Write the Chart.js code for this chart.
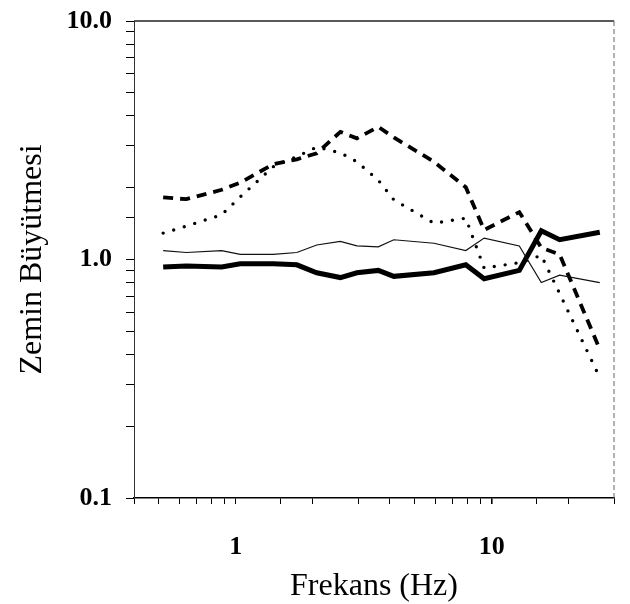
<!DOCTYPE html>
<html>
<head>
<meta charset="utf-8">
<script src="https://cdn.jsdelivr.net/npm/chart.js@4"></script>
<style>
  html, body { margin: 0; padding: 0; background: #fff; }
  #wrap { width: 630px; height: 604px; }
</style>
</head>
<body>
<div id="wrap"><canvas id="amp-chart" width="630" height="604"></canvas></div>
<script>
// frekanslar (Hz) ve zemin buyutmesi degerleri
var freq = [0.52, 0.64, 0.88, 1.04, 1.4, 1.73, 2.07, 2.56, 2.97, 3.6, 4.14, 5.94, 7.91, 9.33, 12.8, 15.6, 18.4, 26.4];
var thickLine = [0.93, 0.94, 0.93, 0.96, 0.96, 0.95, 0.88, 0.84, 0.88, 0.90, 0.85, 0.88, 0.95, 0.83, 0.90, 1.32, 1.21, 1.30];
var thinLine = [1.09, 1.07, 1.09, 1.05, 1.05, 1.07, 1.15, 1.19, 1.14, 1.13, 1.21, 1.17, 1.09, 1.23, 1.14, 0.80, 0.86, 0.80];
var dashLine = [1.82, 1.79, 1.96, 2.10, 2.51, 2.63, 2.79, 3.43, 3.22, 3.60, 3.25, 2.57, 2.01, 1.33, 1.58, 1.12, 1.05, 0.42];
var dotLine = [1.29, 1.38, 1.54, 1.83, 2.45, 2.70, 2.96, 2.80, 2.57, 2.15, 1.78, 1.42, 1.49, 0.92, 0.97, 1.04, 0.72, 0.32];

var xLabels = { 1: "1", 10: "10" };
var yLabels = { 0.1: "0.1", 1: "1.0", 10: "10.0" };

function pts(values) {
    return values.map(function (v, i) { return { x: freq[i], y: v }; });
}

var serif = "'Liberation Serif', 'DejaVu Serif', serif";

// ust ve sag cerceve
var framePlugin = {
    id: "frame",
    afterDraw: function (chart) {
        var a = chart.chartArea;
        var c = chart.ctx;
        c.save();
        c.strokeStyle = "#222";
        c.lineWidth = 1.5;
        c.beginPath();
        c.moveTo(a.left, a.top);
        c.lineTo(a.right, a.top);
        c.stroke();
        c.strokeStyle = "#666";
        c.lineWidth = 1;
        c.setLineDash([5, 3]);
        c.beginPath();
        c.moveTo(a.right, a.top);
        c.lineTo(a.right, a.bottom);
        c.stroke();
        c.restore();
    }
};

var ctx = document.getElementById("amp-chart");
var chartGraph = new Chart(ctx, {
    type: "line",
    data: {
        datasets: [
            {
                data: pts(thinLine),
                borderColor: "#111",
                borderWidth: 1.2,
            },
            {
                data: pts(dashLine),
                borderColor: "#000",
                borderWidth: 3.8,
                borderDash: [10, 7],
            },
            {
                data: pts(dotLine),
                borderColor: "#000",
                borderWidth: 3.4,
                borderDash: [0, 11],
                borderCapStyle: "round",
            },
            {
                data: pts(thickLine),
                borderColor: "#000",
                borderWidth: 5,
                borderJoinStyle: "miter",
            }
        ],
    },
    options: {
        responsive: false,
        animation: false,
        layout: { padding: { top: 21, right: 16, left: 0, bottom: 0 } },
        elements: { point: { radius: 0 }, line: { tension: 0 } },
        plugins: { legend: { display: false }, tooltip: { enabled: false } },
        scales: {
            x: {
                type: "logarithmic",
                min: 0.4,
                max: 30,
                afterFit: function (s) {
                    s.height = 106;
                    s.paddingLeft = 0;
                    s.paddingRight = 0;
                },
                border: { color: "#000", width: 1.5 },
                grid: {
                    drawOnChartArea: false,
                    drawTicks: true,
                    tickLength: 6,
                    color: "#000",
                    lineWidth: function (c) { return c.tick && c.tick.value === 10 ? 1.6 : 1; }
                },
                ticks: {
                    autoSkip: false,
                    maxRotation: 0,
                    padding: 28,
                    color: "#000",
                    font: { family: serif, size: 26, weight: "bold" },
                    callback: function (v) { return xLabels[v] || ""; }
                },
                title: {
                    display: true,
                    text: "Frekans (Hz)",
                    color: "#000",
                    font: { family: serif, size: 32, lineHeight: 1 },
                    padding: { top: 0, bottom: 1 }
                }
            },
            y: {
                type: "logarithmic",
                min: 0.1,
                max: 10,
                afterFit: function (s) {
                    s.width = 134;
                    s.paddingTop = 0;
                    s.paddingBottom = 0;
                },
                border: { color: "#333", width: 1 },
                grid: { drawOnChartArea: false, drawTicks: true, tickLength: 8, color: "#000", lineWidth: 1 },
                ticks: {
                    autoSkip: false,
                    padding: 14,
                    color: "#000",
                    font: { family: serif, size: 26, weight: "bold" },
                    callback: function (v) { return yLabels[v] || ""; }
                },
                title: {
                    display: true,
                    text: "Zemin Büyütmesi",
                    color: "#000",
                    font: { family: serif, size: 32, lineHeight: 1 },
                    padding: { top: 17, bottom: 0 }
                }
            }
        }
    },
    plugins: [framePlugin]
});
</script>
</body>
</html>
